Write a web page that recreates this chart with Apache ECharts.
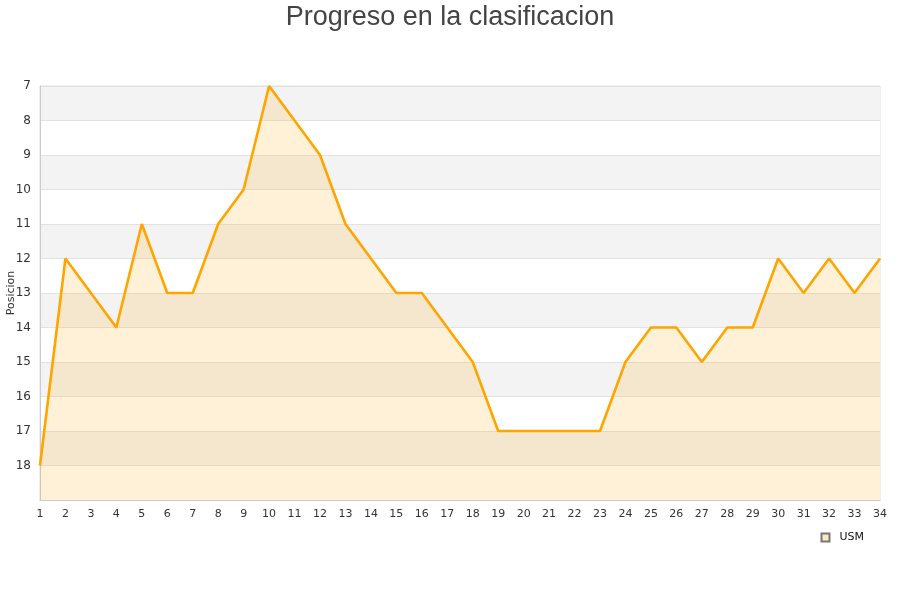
<!DOCTYPE html>
<html>
<head>
<meta charset="utf-8">
<script src="https://cdn.jsdelivr.net/npm/echarts@6/dist/echarts.min.js"></script>
<style>html,body{margin:0;padding:0;background:#fff}#c{width:900px;height:600px}</style>
</head>
<body>
<div id="c"></div>
<script>
const jornadas = ["1","2","3","4","5","6","7","8","9","10","11","12","13","14","15","16","17","18","19","20","21","22","23","24","25","26","27","28","29","30","31","32","33","34"];
const posicionUSM = [18,12,13,14,11,13,13,11,10,7,8,9,11,12,13,13,14,15,17,17,17,17,17,15,14,14,15,14,14,12,13,12,13,12];
const yTicks = [7,8,9,10,11,12,13,14,15,16,17,18];

const chart = echarts.init(document.getElementById('c'));
chart.setOption({
  animation: false,
  title: {
    text: 'Progreso en la clasificacion',
    left: 'center', top: -1,
    textStyle: {fontFamily: 'Liberation Sans, Arial', fontSize: 27, fontWeight: 'normal', color: '#444'}
  },
  legend: {
    data: ['USM'], right: 31, top: 527, itemWidth: 8, itemHeight: 8, itemGap: 6,
    icon: 'rect',
    textStyle: {fontFamily: 'DejaVu Sans', fontSize: 11, color: '#111', padding: [0, 0, 0, 5]}
  },
  grid: {left: 40, right: 20, top: 86, bottom: 100, show: true, borderColor: '#ddd', borderWidth: 1, outerBoundsMode: 'none', containLabel: false},
  xAxis: {
    type: 'category', data: jornadas, boundaryGap: false,
    axisLine: {lineStyle: {color: '#ccc'}},
    axisTick: {show: false},
    axisLabel: {color: '#333', fontFamily: 'DejaVu Sans', fontSize: 11, margin: 9, interval: 0},
    splitLine: {show: false}
  },
  yAxis: {
    type: 'value', inverse: true, min: 7, max: 19, interval: 1,
    name: 'Posicion', nameLocation: 'middle', nameGap: 23, nameMoveOverlap: false,
    nameTextStyle: {fontFamily: 'DejaVu Sans', fontSize: 11, color: '#333'},
    axisLine: {show: true, lineStyle: {color: '#ccc'}},
    axisTick: {show: false},
    axisLabel: {
      color: '#333', fontFamily: 'DejaVu Sans', fontSize: 12, margin: 9, verticalAlign: 'middle',
      padding: [0, 0, 2, 0],
      formatter: v => yTicks.includes(v) ? String(v) : ''
    },
    splitLine: {show: true, lineStyle: {color: '#e2e2e2'}},
    splitArea: {show: true, areaStyle: {color: ['#f3f3f3', '#ffffff']}}
  },
  series: [{
    name: 'USM', type: 'line', data: posicionUSM,
    showSymbol: false, symbol: 'none',
    lineStyle: {color: '#ffa500', width: 2.6},
    itemStyle: {color: '#fde9c6', borderColor: '#777', borderWidth: 1},
    areaStyle: {color: 'rgba(255,170,20,0.24)', origin: 'end'}
  }]
});
</script>
</body>
</html>
